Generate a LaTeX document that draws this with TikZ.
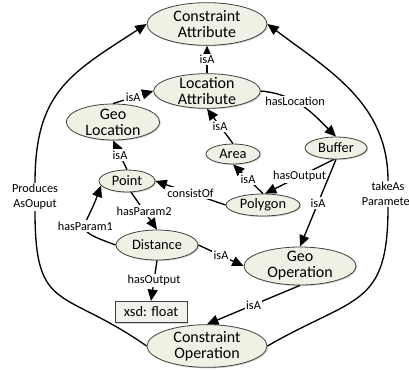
\documentclass[tikz,border=0pt]{standalone}
\usepackage{fontspec}
\setmainfont{Carlito}
\usetikzlibrary{arrows.meta,shapes.geometric,shadows}
\definecolor{figline}{HTML}{404040}
\definecolor{figfill}{HTML}{F0F0E4}
\definecolor{figbox}{HTML}{F2F2EC}
\newcommand\nodefont{\fontsize{12}{12}\selectfont}
\newcommand\smallfont{\fontsize{10.8}{12}\selectfont}
\newcommand\labfont{\fontsize{9.2}{11}\selectfont}

\begin{document}
\begin{tikzpicture}[
  x=0.75pt, y=0.75pt,
  cls/.style={ellipse, draw=figline, line width=0.6pt, fill=figfill, align=center,
              font=\nodefont, inner xsep=0pt, inner ysep=-3pt,
              drop shadow={shadow xshift=0.8pt, shadow yshift=-0.8pt, fill=black, opacity=0.18}},
  scls/.style={cls, font=\smallfont},
  lit/.style={rectangle, draw=figline, line width=0.6pt, fill=figbox, font=\smallfont,
              minimum width=54pt, minimum height=16pt, inner sep=0pt,
              drop shadow={shadow xshift=0.8pt, shadow yshift=-0.8pt, fill=black, opacity=0.18}},
  flow/.style={-{Triangle[length=8.5pt,width=7.5pt]}, draw=black, line width=1pt},
  lab/.style={font=\labfont, fill=white, inner sep=1pt, align=center}
]
\useasboundingbox (0,0) rectangle (409,369);

% classes
\node[cls, minimum width=90pt, minimum height=32pt] (ca) at (207,345) {Constraint\\Attribute};
\node[cls, minimum width=80pt, minimum height=26pt] (la) at (207,278) {Location\\Attribute};
\node[cls, minimum width=70pt, minimum height=27pt] (geoloc) at (113,247) {Geo\\Location};
\node[scls, minimum width=42pt, minimum height=16.5pt] (point) at (127,188) {Point};
\node[scls, minimum width=40.5pt, minimum height=15pt] (area) at (233,215) {Area};
\node[scls, minimum width=46.5pt, minimum height=16.5pt] (buffer) at (336,221) {Buffer};
\node[scls, minimum width=55.5pt, minimum height=16.5pt] (polygon) at (263,164) {Polygon};
\node[scls, minimum width=61.5pt, minimum height=22.5pt] (dist) at (157,124) {Distance};
\node[cls, minimum width=84pt, minimum height=28.5pt] (geoop) at (300,103) {Geo\\Operation};
\node[lit] (xsd) at (151,57) {xsd: float};
\node[cls, minimum width=90pt, minimum height=32pt] (co) at (207,23) {Constraint\\Operation};

% long relations
\node[lab, fill=none] (prod) at (35,172) {Produces\\AsOuput};
\node[lab, fill=none] (take) at (388,175) {takeAs\\Parameter};

% relations
\draw[flow] (la) -- node[lab]{isA} (ca);
\draw[flow] (geoloc.north) -- node[lab]{isA} (la.west);
\draw[flow] (point.north) -- node[lab]{isA} (geoloc.south);
\draw[flow] (area.north) -- node[lab]{isA} (la.south);
\draw[flow] (la.east) to[out=-5,in=135] node[lab,pos=0.4]{hasLocation} (buffer.north);
\draw[flow] (polygon.north) -- node[lab]{isA} (area.south);
\draw[flow] (buffer.260) -- node[lab]{hasOutput} (polygon.80);
\draw[flow] (buffer.south) -- node[lab]{isA} (geoop.north);
\draw[flow] (polygon.west) -- node[lab]{consistOf} (point.east);
\draw[flow] (point.-70) -- node[lab]{hasParam2} (dist.north);
\draw[flow] (dist.west) to[out=160,in=-110,looseness=2] node[lab]{hasParam1} (point.190);
\draw[flow] (dist.south) -- node[lab]{hasOutput} (xsd.north);
\draw[flow] (dist.east) -- node[lab]{isA} (geoop.west);
\draw[flow] (geoop.south) -- node[lab]{isA} (co.north);
\draw[flow] (co.west) to[out=145,in=-90,looseness=1.5] (prod.south)
            (prod.north) to[out=90,in=213,looseness=1.2] (ca.west);
\draw[flow] (co.east) to[out=30,in=-90,looseness=1.4] (take.south)
            (take.north) to[out=90,in=-37] (ca.east);
\end{tikzpicture}
\end{document}
